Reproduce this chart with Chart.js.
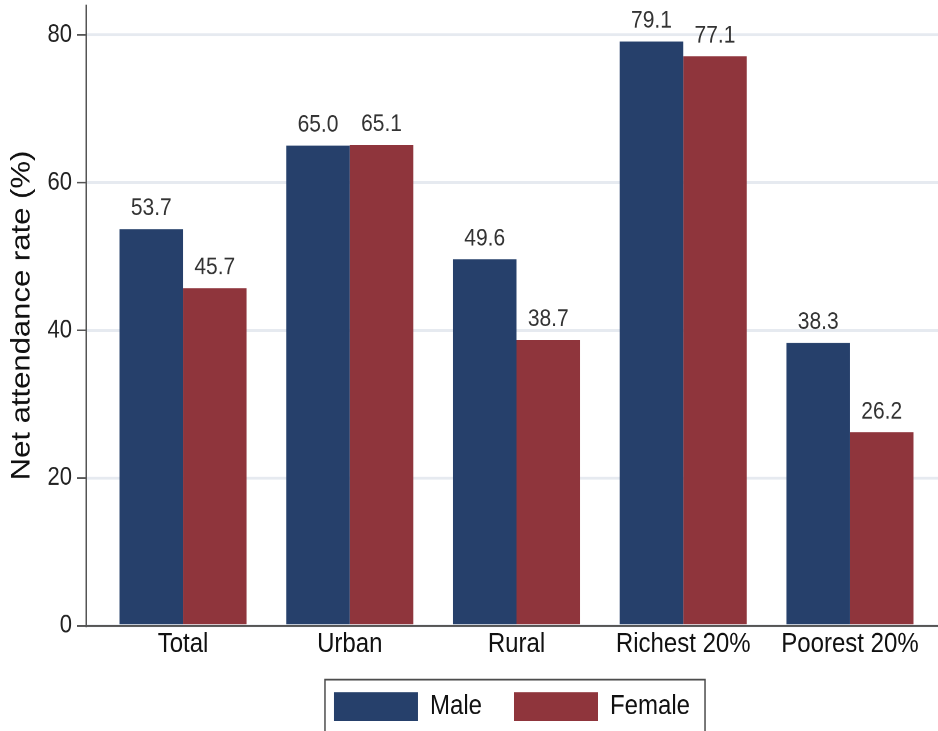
<!DOCTYPE html>
<html><head><meta charset="utf-8">
<script src="https://cdn.jsdelivr.net/npm/chart.js@4/dist/chart.umd.min.js"></script>
<style>
html,body{margin:0;padding:0;background:#fff;overflow:hidden;width:938px;height:731px}
#wrap{position:absolute;left:0;top:0;width:938px;height:647px;transform:scale(1,1.15);transform-origin:0 0}
</style></head><body>
<div id="wrap"><canvas id="chart"></canvas></div>
<script>
const cats=["Total","Urban","Rural","Richest 20%","Poorest 20%"];
const male=[53.7,65.0,49.6,79.1,38.3];
const female=[45.7,65.1,38.7,77.1,26.2];
const yTicks=[0,20,40,60,80];

const font="'Liberation Sans', Arial, sans-serif";

// numbers above the bars
const barLabels={id:"barLabels",afterDatasetsDraw(c){
 let ctx=c.ctx; ctx.save();
 ctx.font="21px "+font; ctx.fillStyle="#333"; ctx.textAlign="center"; ctx.textBaseline="alphabetic";
 c.data.datasets.forEach((ds,i)=>{
  c.getDatasetMeta(i).data.forEach((b,j)=>ctx.fillText(ds.data[j].y.toFixed(1),b.x,b.y-12));
 });
 ctx.restore();
}};

// frame round the legend, runs off the bottom like the original
const legendFrame={id:"legendFrame",afterDraw(c){
 let hb=c.legend.legendHitBoxes; if(!hb||!hb.length) return;
 let a=hb[0],z=hb[hb.length-1];
 let ctx=c.ctx; ctx.save();
 ctx.strokeStyle="#4d4d4d"; ctx.lineWidth=1.5;
 ctx.strokeRect(a.left-9,a.top-11,z.left+z.width+15-(a.left-9),80);
 ctx.restore();
}};

new Chart(document.getElementById("chart"),{
 type:"bar",
 data:{datasets:[
  {label:"Male",data:male.map((v,i)=>({x:i,y:v})),backgroundColor:"#26406b"},
  {label:"Female",data:female.map((v,i)=>({x:i,y:v})),backgroundColor:"#8f353c"}
 ]},
 options:{
  responsive:true,maintainAspectRatio:false,animation:false,devicePixelRatio:2,
  categoryPercentage:0.762,barPercentage:1,
  layout:{padding:{top:4.7,left:0,right:0,bottom:10}},
  plugins:{
   legend:{position:"bottom",fullSize:false,labels:{boxWidth:84,boxHeight:25,padding:32,color:"#111",font:{family:font,size:24}}},
   tooltip:{enabled:false}
  },
  scales:{
   x:{type:"linear",min:-0.582,max:4.528,offset:false,
    grid:{display:false,drawTicks:false},
    border:{color:"#555",width:1.5},
    ticks:{padding:2,color:"#111",font:{family:font,size:24},callback:v=>cats[v]},
    afterBuildTicks:s=>{s.ticks=cats.map((c,i)=>({value:i}))},
    afterFit:s=>{s.height=26}
   },
   y:{min:0,max:84,
    grid:{color:"#e6eaf0",lineWidth:2.5,tickLength:9,tickColor:"#555",tickWidth:1.5},
    border:{color:"#555",width:1.5},
    ticks:{padding:5,color:"#222",font:{family:font,size:22}},
    afterBuildTicks:s=>{s.ticks=yTicks.map(v=>({value:v}))},
    afterFit:s=>{s.width=86;s.paddingTop=0},
    title:{display:true,text:"Net attendance rate (%)",color:"#111",font:{family:font,size:27},padding:{top:6}}
   }
  }
 },
 plugins:[barLabels,legendFrame]
});
</script>
</body></html>
